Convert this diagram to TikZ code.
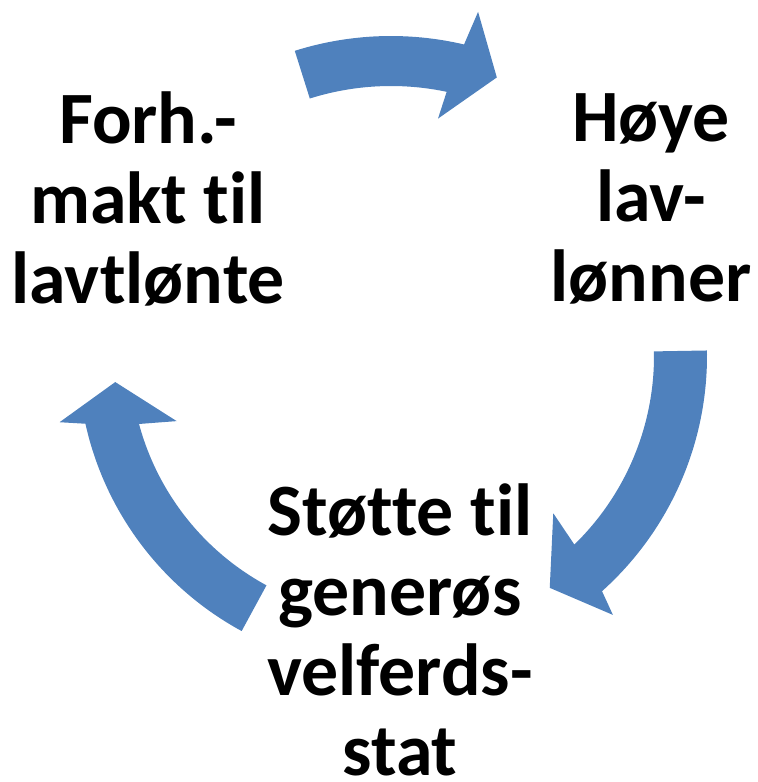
\documentclass[tikz,border=0pt]{standalone}
\usepackage{fontspec}
\setmainfont{Carlito}[Ligatures={NoCommon,NoContextual}]
\usepackage{tikz}
\usepackage{xcolor}
\usetikzlibrary{calc}
\definecolor{cycleblue}{RGB}{79,129,189}

\begin{document}
\begin{tikzpicture}[x=0.02cm,y=0.02cm,
    cycletext/.style={align=center,inner sep=0pt,font=\fontsize{42}{45.5}\selectfont\bfseries}]
  \useasboundingbox (0,0) rectangle (758,782);
  \coordinate (C) at (391,426);
  % top arrow
  \fill[cycleblue] ($(C)+(107.5:320)$) arc[start angle=107.5,end angle=76.8,radius=320]
    -- ($(C)+(75.8:355)$) -- ($(C)+(69.2:298)$) -- ($(C)+(78.8:242)$)
    -- ($(C)+(78.1:270)$) arc[start angle=78.1,end angle=107.5,radius=270] -- cycle;
  % right arrow
  \fill[cycleblue] ($(C)+(1:316)$) arc[start angle=1,end angle=-48.1,radius=316]
    -- ($(C)+(-49.4:341)$) -- ($(C)+(-55.6:281)$) -- ($(C)+(-44.1:226)$)
    -- ($(C)+(-45.8:263)$) arc[start angle=-45.8,end angle=1,radius=263] -- cycle;
  % left arrow
  \fill[cycleblue] ($(C)+(241.5:313)$) arc[start angle=241.5,end angle=192.5,radius=313]
    -- ($(C)+(191.3:338)$) -- ($(C)+(185.4:277)$) -- ($(C)+(196.9:224)$)
    -- ($(C)+(195.1:261)$) arc[start angle=195.1,end angle=241.5,radius=261] -- cycle;
  % labels
  \node[cycletext] (forh) at (148,583) {Forh.-\\makt til\\lavtlønte};
  \node[cycletext] (hoye) at (651,583) {Høye\\lav-\\lønner};
  \node[cycletext] (stotte) at (400,152) {Støtte til\\generøs\\velferds-\\stat};
\end{tikzpicture}
\end{document}
